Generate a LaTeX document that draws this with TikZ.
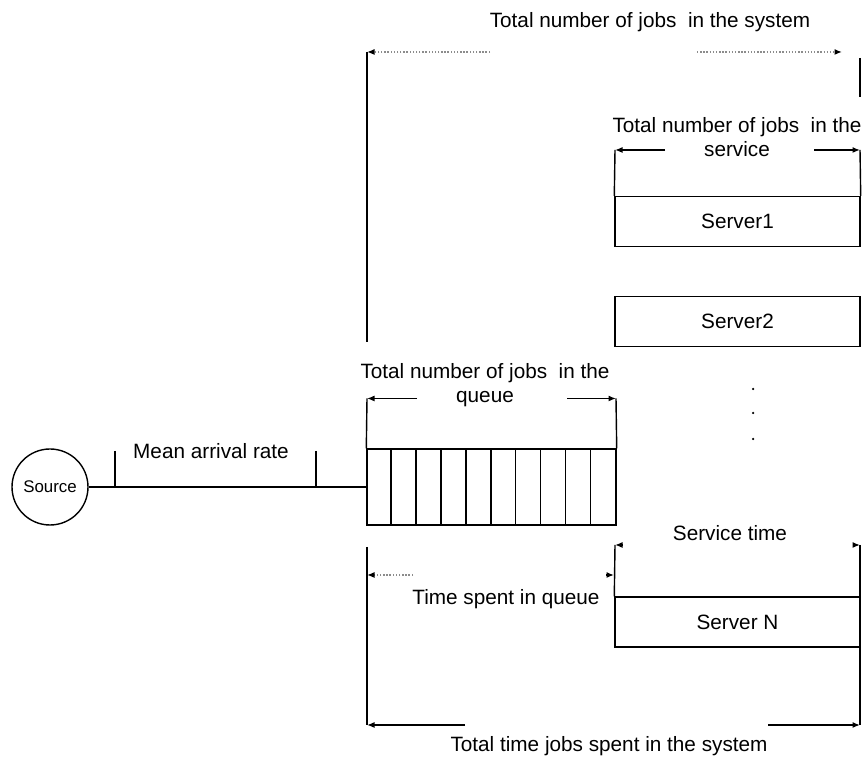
\documentclass[tikz,border=0pt]{standalone}
\usepackage{fontspec}
\setmainfont{Liberation Sans}
\usepackage{tikz}
\usetikzlibrary{arrows.meta, positioning, calc}

\begin{document}
\begin{tikzpicture}[
  font=\fontsize{11.8}{14}\selectfont, line width=0.8pt,
  srv/.style={draw, minimum width=4.9cm, minimum height=1cm, inner sep=0pt},
  qbox/.style={draw, minimum width=4.98cm, minimum height=1.52cm, inner sep=0pt},
  lbl/.style={align=center, inner sep=0pt},
  arr/.style={-{Latex[length=1.5mm,width=1.2mm]}},
  dotarr/.style={densely dotted, draw=black!45, -{Latex[length=1.5mm,width=1.2mm,color=black]}},
]
\useasboundingbox (0,0) rectangle (17.32,15.16);

\node[circle, draw, minimum size=1.52cm, inner sep=0pt, font=\fontsize{9.6}{11}\selectfont] (src) at (1.0,5.42) {Source};
\node[qbox] (queue) at (9.83,5.42) {};
\foreach \i in {1,...,9}
  \draw ([xshift=\i*0.498cm]queue.south west) -- ([xshift=\i*0.498cm]queue.north west);

\node[srv] (s1) at (14.75,10.73) {Server1};
\node[srv] (s2) at (14.75,8.73) {Server2};
\node[srv] (sN) at (14.75,2.72) {Server N};
\foreach \y in {7.38,6.9,6.38}
  \fill (15.06,\y) circle (0.025);

% arrival line
\draw (src) -- (queue);
\coordinate (m1) at (2.3,6.14);
\coordinate (m2) at (6.32,6.14);
\draw (m1) -- (m1 |- src.east);
\draw (m2) -- (m2 |- src.east);
\node (rate) at (4.22,6.14) {Mean arrival rate};

% system
\node (systitle) at (13.0,14.72) {Total number of jobs\ \ in the system};
\coordinate (sysL) at (7.34,14.12);
\coordinate (sysB) at (7.34,8.32);
\coordinate (sysR) at (16.84,14.12);
\coordinate (sysT) at (17.2,14.0);
\coordinate (sysE) at (17.2,13.22);
\draw (sysB) -- (sysL);
\draw[dotarr] ([xshift=2.46cm]sysL) -- (sysL);
\draw[dotarr] ([xshift=-2.9cm]sysR) -- (sysR);
\draw[line width=1.4pt] (sysT) -- (sysE);

% service
\node[lbl] (svlab) at (14.74,12.42) {Total number of jobs\ \ in the\\service};
\coordinate (svL) at (12.3,12.16);
\coordinate (svR) at (17.2,12.16);
\draw (s1.north west) -- (svL);
\draw (s1.north east) -- (svR);
\draw[arr] ([xshift=1cm]svL) -- (svL);
\draw[arr] ([xshift=-0.92cm]svR) -- (svR);

% queue
\node[lbl] (qlab) at (9.7,7.46) {Total number of jobs\ \ in the\\queue};
\coordinate (qL) at (7.34,7.19);
\coordinate (qR) at (12.32,7.19);
\draw (queue.north west) -- (qL);
\draw (queue.north east) -- (qR);
\draw[arr] ([xshift=1cm]qL) -- (qL);
\draw[arr] ([xshift=-0.98cm]qR) -- (qR);

% times
\node (stime) at (14.6,4.5) {Service time};
\coordinate (stL) at (12.3,4.26);
\coordinate (stR) at (17.2,4.26);
\coordinate (ttTop) at (7.34,4.22);
\coordinate (ttL) at (7.34,0.66);
\coordinate (ttR) at (17.2,0.66);
\draw (sN.north west) -- (stL);
\draw[arr] ([xshift=0.14cm]stL) -- (stL);
\draw[arr] ([xshift=-0.14cm]stR) -- (stR);
\draw (stR) -- (ttR);

\node (tq) at (10.12,3.18) {Time spent in queue};
\coordinate (tqL) at (7.34,3.66);
\coordinate (tqR) at (12.28,3.66);
\draw[dotarr] ([xshift=0.92cm]tqL) -- (tqL);
\draw[arr] ([xshift=-0.16cm]tqR) -- (tqR);

\draw (ttTop) -- (ttL);
\draw[arr] ([xshift=1.96cm]ttL) -- (ttL);
\draw[arr] ([xshift=-1.84cm]ttR) -- (ttR);
\node (tt) at (12.18,0.24) {Total time jobs spent in the system};
\end{tikzpicture}
\end{document}
